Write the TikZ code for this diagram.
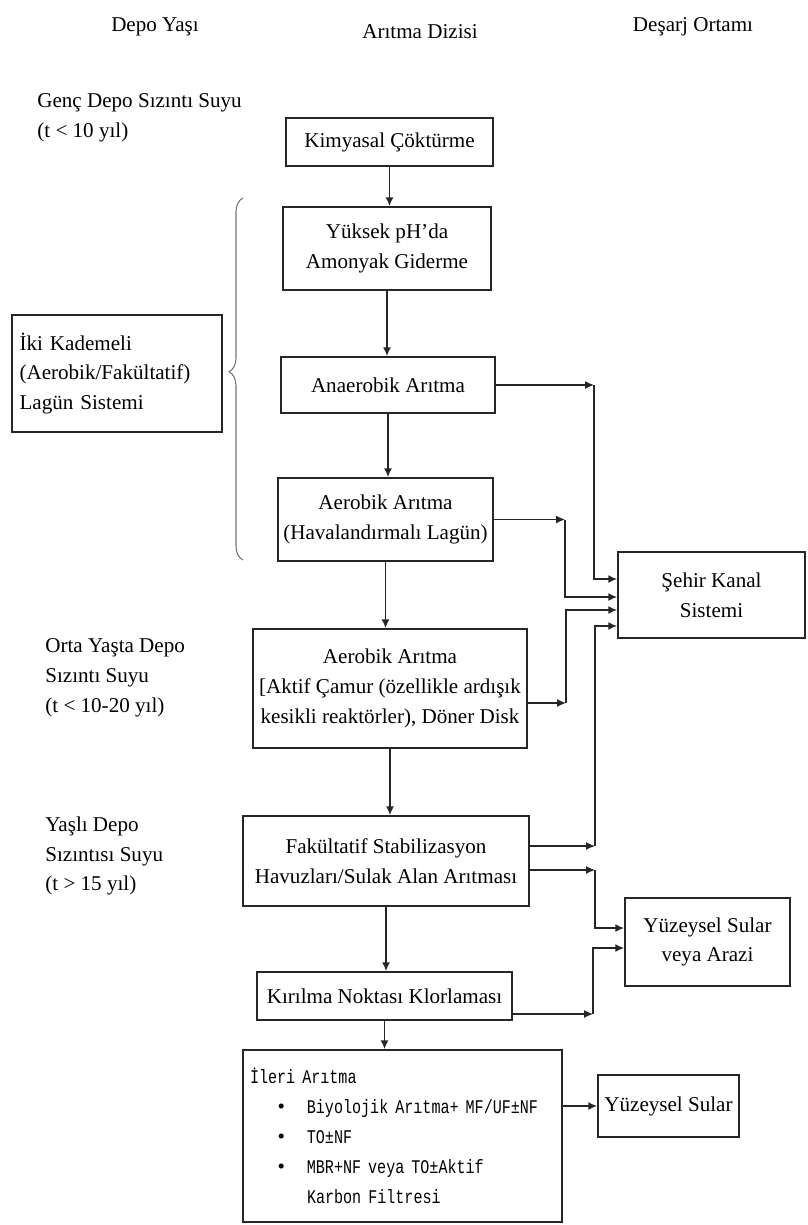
\documentclass[tikz,border=0pt]{standalone}
\usepackage{fontspec}
\setmainfont{Liberation Serif}
\newfontfamily\monofont[FakeStretch=0.78]{Liberation Mono}
\newcommand{\mono}{\monofont\fontsize{11}{17}\selectfont}
\usepackage{tikz}
\usetikzlibrary{arrows.meta, decorations.pathreplacing}

\begin{document}
\begin{tikzpicture}[x=0.02cm, y=-0.02cm,
    font=\fontsize{12}{17}\selectfont,
    box/.style={draw=black!85, line width=1pt, align=center, inner sep=2pt},
    wd/.style={minimum width=#1*0.02cm},
    ht/.style={minimum height=#1*0.02cm},
    arr/.style={-{Latex[length=5pt,width=4.5pt]}, line width=0.8pt, draw=black!85},
    lbl/.style={align=left, anchor=west, inner sep=0pt}]

      \useasboundingbox (0,0) rectangle (808,1225);

      % Column titles
      \node (hdepo) at (155,27) {Depo Yaşı};
      \node (hdizi) at (420,32) {Arıtma Dizisi};
      \node (hdesarj) at (693,27) {Deşarj Ortamı};

      % Landfill age labels
      \node[lbl] (genc) at (37,117.5) {Genç Depo Sızıntı Suyu\\(t < 10 yıl)};
      \node[lbl] (orta) at (45,678) {Orta Yaşta Depo\\Sızıntı Suyu\\(t < 10-20 yıl)};
      \node[lbl] (yasli) at (45,856) {Yaşlı Depo\\Sızıntısı Suyu\\(t > 15 yıl)};
      \node[box, wd=210, ht=117, align=left, text width=3.9cm, inner sep=0.15cm] (ikikad) at (117,373.5)
           {İki Kademeli\\(Aerobik/Fakültatif)\\Lagün Sistemi};

      % Brace for the lagoon system
      \draw[black!55, line width=0.6pt, decorate, decoration={brace, amplitude=0.28cm, aspect=0.52}] (243,560) -- (243,198);

      % Treatment sequence
      \node[box, wd=207, ht=48] (kimya) at (389.5,142) {Kimyasal Çöktürme};
      \node[box, wd=208, ht=83] (yuksek) at (387,248.5) {Yüksek pH’da\\Amonyak Giderme};
      \node[box, wd=214, ht=56] (anaerobik) at (388,385) {Anaerobik Arıtma};
      \node[box, wd=215, ht=83] (aerobik) at (385.5,519.5) {Aerobik Arıtma\\(Havalandırmalı Lagün)};
      \node[box, wd=274, ht=119] (aktif) at (390,688.5) {Aerobik Arıtma\\{[}Aktif Çamur (özellikle ardışık\\kesikli reaktörler), Döner Disk};
      \node[box, wd=286, ht=90] (fakul) at (386,861) {Fakültatif Stabilizasyon\\Havuzları/Sulak Alan Arıtması};
      \node[box, wd=255, ht=48] (kirilma) at (384.5,996) {Kırılma Noktası Klorlaması};
      \node[box, wd=319, ht=172, align=left, text width=6.1cm, inner sep=0.14cm] (ileri) at (402.5,1136)
           {{\mono İleri Arıtma}\\
            \hspace*{0.55cm}\textbullet\hspace*{0.44cm}\mbox{\mono Biyolojik Arıtma+ MF/UF±NF}\\
            \hspace*{0.55cm}\textbullet\hspace*{0.44cm}{\mono TO±NF}\\
            \hspace*{0.55cm}\textbullet\hspace*{0.44cm}\mbox{\mono MBR+NF veya TO±Aktif}\\
            \hspace*{1.14cm}{\mono Karbon Filtresi}};

      % Discharge
      \node[box, wd=187, ht=86] (sehir) at (711.5,595) {Şehir Kanal\\Sistemi};
      \node[box, wd=165, ht=88] (arazi) at (707.5,942) {Yüzeysel Sular\\veya Arazi};
      \node[box, wd=141, ht=62] (yuzey) at (668.5,1106) {Yüzeysel Sular};

      % Down the sequence
      \draw[arr] (kimya.south) -- (kimya.south |- yuksek.north);
      \draw[arr] (yuksek.south) -- (yuksek.south |- anaerobik.north);
      \draw[arr] (anaerobik.south) -- (anaerobik.south |- aerobik.north);
      \draw[arr] (aerobik.south) -- (aerobik.south |- aktif.north);
      \draw[arr] (aktif.south) -- (aktif.south |- fakul.north);
      \draw[arr] (fakul.south) -- (fakul.south |- kirilma.north);
      \draw[arr] (kirilma.south) -- (kirilma.south |- ileri.north);

      % Corners of the outlet lines
      \coordinate (c1) at (594,385);
      \coordinate (c2) at (565,519.5);
      \coordinate (c3) at (566,703);
      \coordinate (c4) at (595,846);
      \coordinate (c5) at (595,870);
      \coordinate (c6) at (593,1014);

      \draw[arr] (anaerobik.east) -- (c1);
      \draw[arr] (c1) |- ([yshift=0.32cm]sehir.west);
      \draw[arr] (aerobik.east) -- (c2);
      \draw[arr] (c2) |- ([yshift=-0.04cm]sehir.west);
      \draw[arr] (aktif.east |- c3) -- (c3);
      \draw[arr] (c3) |- ([yshift=-0.3cm]sehir.west);
      \draw[arr] (fakul.east |- c4) -- (c4);
      \draw[arr] (c4) |- ([yshift=-0.62cm]sehir.west);
      \draw[arr] (fakul.east |- c5) -- (c5);
      \draw[arr] (c5) |- ([yshift=0.28cm]arazi.west);
      \draw[arr] (kirilma.east |- c6) -- (c6);
      \draw[arr] (c6) |- ([yshift=-0.12cm]arazi.west);
      \draw[arr] (ileri.east |- yuzey.west) -- (yuzey.west);

    \end{tikzpicture}
\end{document}
